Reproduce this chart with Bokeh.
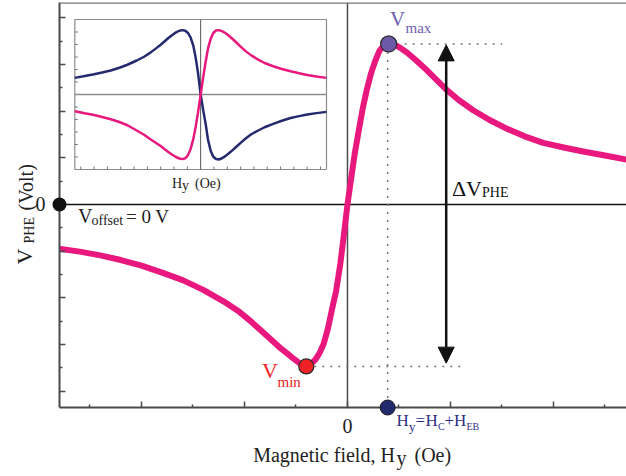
import math
from bokeh.plotting import figure
from bokeh.models import Range1d, FixedTicker, Span, Arrow, NormalHead
from bokeh.core.properties import value
from bokeh.embed import file_html
from bokeh.resources import INLINE

# ---------------- data ----------------
# main curve: planar Hall voltage vs field (field in major-tick units)
field_h = [-2.80, -2.60, -2.40, -2.20, -2.00, -1.80, -1.60, -1.40, -1.20, -1.05,
           -0.94, -0.84, -0.74, -0.66, -0.58, -0.52, -0.46, -0.40, -0.35, -0.31,
           -0.27, -0.23, -0.19, -0.15, -0.11, -0.07, -0.035, 0.00, 0.035, 0.07,
           0.11, 0.15, 0.19, 0.23, 0.27, 0.31, 0.35, 0.40, 0.45, 0.51,
           0.58, 0.66, 0.75, 0.85, 0.96, 1.08, 1.22, 1.38, 1.55, 1.72,
           1.90, 2.10, 2.30, 2.50, 2.71]
v_phe = [-0.95, -1.01, -1.09, -1.19, -1.31, -1.46, -1.62, -1.83, -2.08, -2.30,
         -2.50, -2.70, -2.90, -3.06, -3.20, -3.31, -3.41, -3.47, -3.41, -3.32,
         -3.18, -2.98, -2.66, -2.24, -1.85, -1.28, -0.65, 0.00, 0.55, 1.08,
         1.59, 2.08, 2.48, 2.82, 3.08, 3.29, 3.40, 3.44, 3.43, 3.36,
         3.25, 3.10, 2.92, 2.70, 2.46, 2.24, 2.02, 1.81, 1.62, 1.46,
         1.32, 1.22, 1.13, 1.05, 0.96]

vmax_h, vmax_v = 0.40, 3.44
vmin_h, vmin_v = -0.40, -3.47
hy_h = 0.39

# inset curves
inset_h = [-9.45, -8.70, -8.00, -7.40, -6.75, -6.10, -5.50, -4.80, -4.25, -3.80,
           -3.40, -3.00, -2.70, -2.40, -2.10, -1.85, -1.60, -1.37, -1.15, -0.95,
           -0.75, -0.55, -0.375, -0.20, 0.00, 0.20, 0.375, 0.55, 0.75, 0.95,
           1.15, 1.37, 1.60, 1.85, 2.10, 2.40, 2.70, 3.00, 3.40, 3.80,
           4.25, 4.80, 5.50, 6.10, 6.75, 7.40, 8.00, 8.70, 9.45]
inset_pink = [-1.34, -1.50, -1.64, -1.80, -1.98, -2.20, -2.46, -2.88, -3.22, -3.56,
              -3.84, -4.12, -4.38, -4.62, -4.84, -5.00, -5.12, -5.17, -5.10, -4.85,
              -4.35, -3.55, -2.60, -1.45, 0.00, 1.45, 2.62, 3.65, 4.45, 4.92,
              5.12, 5.15, 5.07, 4.92, 4.72, 4.44, 4.14, 3.83, 3.45, 3.13,
              2.83, 2.52, 2.24, 2.04, 1.86, 1.70, 1.56, 1.44, 1.33]
inset_navy = [1.33, 1.48, 1.62, 1.76, 1.92, 2.14, 2.38, 2.72, 3.02, 3.33,
              3.65, 3.98, 4.26, 4.54, 4.78, 4.97, 5.10, 5.15, 5.10, 4.92,
              4.55, 3.90, 2.95, 1.75, 0.00, -1.30, -2.35, -3.60, -4.50, -4.98,
              -5.16, -5.20, -5.10, -4.93, -4.72, -4.45, -4.16, -3.87, -3.50, -3.18,
              -2.92, -2.62, -2.33, -2.10, -1.88, -1.73, -1.60, -1.49, -1.39]

x_major = [-2, -1, 0, 1, 2]
x_minor = [-2.5, -1.5, -0.5, 0.5, 1.5, 2.5]
x_labels = {-2: "", -1: "", 0: "0", 1: "", 2: ""}
y_major = [-4, -3, -2, -1, 0, 1, 2, 3, 4]
y_minor = [-3.5, -2.5, -1.5, -0.5, 0.5, 1.5, 2.5, 3.5]
y_labels = {-4: "", -3: "", -2: "", -1: "", 0: "0", 1: "", 2: "", 3: "", 4: ""}
inset_xticks = [-9, -8, -7, -6, -5, -4, -3, -2, -1, 1, 2, 3, 4, 5, 6, 7, 8, 9]
inset_yticks = [-5, -4, -3, -2, -1, 1, 2, 3, 4, 5]

# ---------------- layout ----------------
W, H = 626, 476
FL, FT, FW, FH = 59, 2, 567, 405
XR = (-2.796, 2.709)
YR = (-4.35, 4.328)
INX = (-9.45, 9.45)     # inset data extent
INY = (-6.0, 6.0)
IN_L, IN_R, IN_T, IN_B = 74.3, 326.0, 19.0, 169.0  # inset box in pixels

def dx(px):
    return XR[0] + (px - FL) / FW * (XR[1] - XR[0])

def dy(py):
    return YR[1] - (py - FT) / FH * (YR[1] - YR[0])

# extra ranges so the inset data maps onto its box
sx = (IN_R - IN_L) / (INX[1] - INX[0])
ix0 = INX[0] - (IN_L - FL) / sx
ix1 = ix0 + FW / sx
sy = (IN_B - IN_T) / (INY[1] - INY[0])
iy1 = INY[1] + (IN_T - FT) / sy
iy0 = iy1 - FH / sy

PINK = "#E8187E"
NAVY = "#252A6E"
SERIF = "Liberation Serif"
AX = "#4a4a4a"

p = figure(width=W, height=H, output_backend="svg", toolbar_location=None,
           x_range=Range1d(*XR), y_range=Range1d(*YR),
           min_border_left=FL, min_border_right=0, min_border_top=FT,
           min_border_bottom=H - FT - FH)
p.extra_x_ranges = {"ix": Range1d(ix0, ix1)}
p.extra_y_ranges = {"iy": Range1d(iy0, iy1)}
p.grid.visible = False
p.outline_line_color = None
p.background_fill_color = "white"
p.border_fill_color = "white"

for ax, maj, mnr, labs, sto in ((p.xaxis[0], x_major, x_minor, x_labels, 11),
                                (p.yaxis[0], y_major, y_minor, y_labels, 14)):
    ax.ticker = FixedTicker(ticks=maj, minor_ticks=mnr)
    ax.major_label_overrides = labs
    ax.major_label_text_font = SERIF
    ax.major_label_text_font_size = "20px"
    ax.major_label_text_color = "#222222"
    ax.major_label_standoff = sto
    ax.major_tick_in = 6
    ax.major_tick_out = 0
    ax.minor_tick_in = 3
    ax.minor_tick_out = 0
    ax.axis_line_color = AX
    ax.axis_line_width = 2
    ax.major_tick_line_color = AX
    ax.minor_tick_line_color = AX
    ax.major_tick_line_width = 1.5
    ax.minor_tick_line_width = 1.5
p.yaxis[0].major_label_orientation = "horizontal"

# reference lines
p.add_layout(Span(location=0, dimension="width", line_color="#111111", line_width=1.5, level="underlay"))
p.add_layout(Span(location=0, dimension="height", line_color="#4d4d4d", line_width=1.5, level="underlay"))
p.add_layout(Span(location=YR[1], dimension="width", line_color="#777777", line_width=2.5))

# ---------------- inset ----------------
p.quad(left=INX[0], right=INX[1], bottom=INY[0], top=INY[1], fill_color="white",
       line_color="#8c8c8c", line_width=1.2, x_range_name="ix", y_range_name="iy")
p.segment(x0=[INX[0]], y0=[0], x1=[INX[1]], y1=[0], line_color="#8c8c8c", line_width=1.5,
          x_range_name="ix", y_range_name="iy")
p.segment(x0=[0], y0=[INY[0]], x1=[0], y1=[INY[1]], line_color="#555555", line_width=1,
          x_range_name="ix", y_range_name="iy")
tlx = 3.0 / sx
tly = 3.0 / sy
p.segment(x0=[INX[0]] * len(inset_yticks), y0=inset_yticks,
          x1=[INX[0] + tlx] * len(inset_yticks), y1=inset_yticks,
          line_color="#777777", line_width=1, x_range_name="ix", y_range_name="iy")
p.segment(x0=inset_xticks, y0=[INY[0]] * len(inset_xticks),
          x1=inset_xticks, y1=[INY[0] + tly] * len(inset_xticks),
          line_color="#777777", line_width=1, x_range_name="ix", y_range_name="iy")
p.line(inset_h, inset_navy, line_color=NAVY, line_width=2.5, x_range_name="ix", y_range_name="iy")
p.line(inset_h, inset_pink, line_color=PINK, line_width=2.5, x_range_name="ix", y_range_name="iy")

# ---------------- main curve & guides ----------------
p.segment(x0=[vmax_h, hy_h, vmin_h], y0=[vmax_v, vmax_v, vmin_v],
          x1=[dx(501.7), hy_h, dx(461.7)], y1=[vmax_v, YR[0], vmin_v],
          line_color="#777777", line_width=1.5, line_dash="2 6")
p.line(field_h, v_phe, line_color=PINK, line_width=6, line_join="round")

p.add_layout(Arrow(start=NormalHead(size=16, fill_color="#111111", line_color="#111111"),
                   end=NormalHead(size=16, fill_color="#111111", line_color="#111111"),
                   x_start=dx(445.7), y_start=vmin_v + 0.07, x_end=dx(445.7), y_end=vmax_v - 0.02,
                   line_color="#111111", line_width=2.5))

p.scatter([vmax_h], [vmax_v], size=16, fill_color="#6C5AA8", line_color="#2a2a2a", line_width=1.2, level="overlay")
p.scatter([vmin_h], [vmin_v], size=15, fill_color="#EE2226", line_color="#2a2a2a", line_width=1.2, level="overlay")
p.scatter([hy_h], [YR[0]], size=15, fill_color="#232A6E", line_color="#1a1a1a", line_width=1, level="overlay")
p.scatter([XR[0]], [0], size=14, fill_color="#111111", line_color=None, level="overlay")

# ---------------- texts (overlay level so they are not clipped) ----------------
SHIFT = 0.4  # baseline correction, fraction of font size

def lab(text, px, py, size, color="#222222", angle=0.0, font=SERIF):
    if angle:
        px = px - SHIFT * size
    else:
        py = py - SHIFT * size
    p.text(x=[dx(px)], y=[dy(py)], text=[text], text_font=value(font),
           text_font_size=value(f"{size}px"), text_color=color,
           text_baseline="alphabetic", text_align="left", angle=angle, level="overlay")

# x-axis title
lab("Magnetic field, H", 252.7, 462, 20)
lab("y", 396, 465, 20)
lab("(Oe)", 414, 462, 20)
# y-axis title (rotated)
lab("V", 33, 264, 22, angle=math.pi / 2)
lab("PHE", 34.5, 243, 14, angle=math.pi / 2)
lab("(Volt)", 33, 210, 20, angle=math.pi / 2)
# inset axis title
lab("H", 171.5, 188.5, 14)
lab("y", 181.5, 190.5, 14)
lab("(Oe)", 194.5, 188.5, 14)
# annotations
lab("V", 77.5, 223.5, 20)
lab("offset", 91, 226, 14)
lab("= 0 V", 125.5, 223.5, 19)
lab("V", 389.5, 27, 21, "#6F5DAE")
lab("max", 405, 33.5, 15, "#6F5DAE")
lab("V", 261.5, 378.5, 22, "#EE2226")
lab("min", 277, 387, 15, "#EE2226")
lab("\u0394", 451.5, 197, 22, "#111111")
lab("V", 465.5, 197, 22, "#111111")
lab("PHE", 481.5, 197.5, 14, "#111111")
HC = "#2D3185"
lab("H", 396, 426.5, 17, HC)
lab("y", 408.5, 431, 13, HC)
lab("=", 415, 426.5, 17, HC)
lab("H", 425, 426.5, 17, HC)
lab("C", 437.5, 429.5, 10, HC)
lab("+", 444, 426.5, 17, HC)
lab("H", 453.5, 426.5, 17, HC)
lab("EB", 466, 429.5, 10, HC)

open("out.html", "w").write(file_html(p, INLINE))
